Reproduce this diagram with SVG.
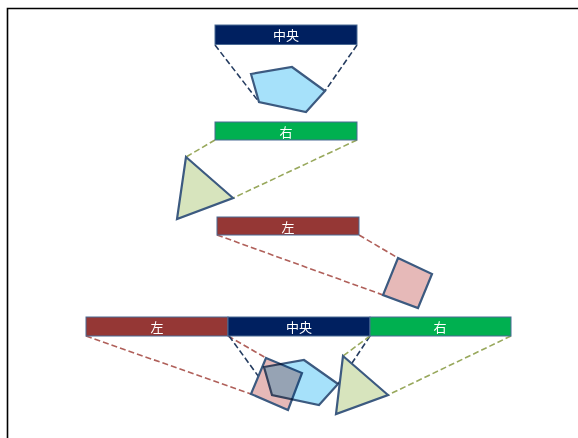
<svg xmlns="http://www.w3.org/2000/svg" width="578" height="438" viewBox="0 0 578 438">
  <style>
    .bar { stroke: #4a6a94; stroke-width: 1; }
    .navy { fill: #002060; }
    .green { fill: #00b050; }
    .red { fill: #953735; }
    .lbl { fill: #ffffff; font-family: "Noto Sans CJK JP", "Noto Sans CJK SC", sans-serif; font-size: 13px; text-anchor: middle; dominant-baseline: central; }
    .shape { stroke: #3c5a80; stroke-width: 2.2; stroke-linejoin: miter; }
    .pent { fill: #a6e1fa; }
    .tri { fill: #d7e4bd; }
    .sq { fill: #e6b9b8; }
    .dash { fill: none; stroke-width: 1.6; stroke-dasharray: 6 3; }
    .dn { stroke: #253c60; }
    .dg { stroke: #98a85c; }
    .dr { stroke: #b0605a; }
  </style>

  <!-- frame -->
  <path d="M7.5,438 V8.5 H578" fill="none" stroke="#000" stroke-width="1.6"/>

  <!-- connectors -->
  <g id="connectors">
    <line class="dash dn" x1="215" y1="45" x2="259" y2="102"/>
    <line class="dash dn" x1="357" y1="45" x2="325" y2="91"/>
    <line class="dash dg" x1="215" y1="140" x2="186" y2="157"/>
    <line class="dash dg" x1="357" y1="140" x2="233" y2="198"/>
    <line class="dash dr" x1="217" y1="235" x2="383" y2="295"/>
    <line class="dash dr" x1="359" y1="235" x2="398" y2="258"/>
    <line class="dash dr" x1="86" y1="336" x2="251" y2="394"/>
    <line class="dash dr" x1="228" y1="336" x2="266" y2="358"/>
    <line class="dash dn" x1="229" y1="336" x2="272" y2="395"/>
    <line class="dash dn" x1="370" y1="336" x2="338" y2="384"/>
    <line class="dash dg" x1="370" y1="336" x2="343" y2="356"/>
    <line class="dash dg" x1="511" y1="336" x2="388" y2="395"/>
  </g>

  <!-- centre group -->
  <g id="center-bar">
    <rect class="bar navy" x="215" y="25" width="142" height="19.5"/>
    <text class="lbl" x="286" y="34.5">中央</text>
  </g>
  <g id="center-shape">
    <polygon class="shape pent" points="251,74 292,67 325,91 306,112 259,102"/>
  </g>

  <!-- right group -->
  <g id="right-bar">
    <rect class="bar green" x="215" y="122" width="142" height="18"/>
    <text class="lbl" x="286" y="131">右</text>
  </g>
  <g id="right-shape">
    <polygon class="shape tri" points="186,157 233,198 177,219"/>
  </g>

  <!-- left group -->
  <g id="left-bar">
    <rect class="bar red" x="217" y="217" width="142" height="18"/>
    <text class="lbl" x="288" y="226">左</text>
  </g>
  <g id="left-shape">
    <polygon class="shape sq" points="398,258 432,274 418,308 383,295"/>
  </g>

  <!-- combined row -->
  <g id="combined-left-bar">
    <rect class="bar red" x="86" y="317" width="142" height="19"/>
    <text class="lbl" x="157" y="326.5">左</text>
  </g>
  <g id="combined-center-bar">
    <rect class="bar navy" x="228" y="317" width="142" height="19"/>
    <text class="lbl" x="299" y="326.5">中央</text>
  </g>
  <g id="combined-right-bar">
    <rect class="bar green" x="370" y="317" width="141" height="19"/>
    <text class="lbl" x="440" y="326.5">右</text>
  </g>
  <g id="combined-square">
    <polygon class="shape sq" points="266,358 302,373 288,410 251,394"/>
  </g>
  <g id="combined-pentagon" style="mix-blend-mode: multiply">
    <polygon class="shape pent" points="264,367 304,360 338,384 319,405 272,395"/>
  </g>
  <g id="combined-triangle">
    <polygon class="shape tri" points="343,356 388,395 336,414"/>
  </g>
</svg>
